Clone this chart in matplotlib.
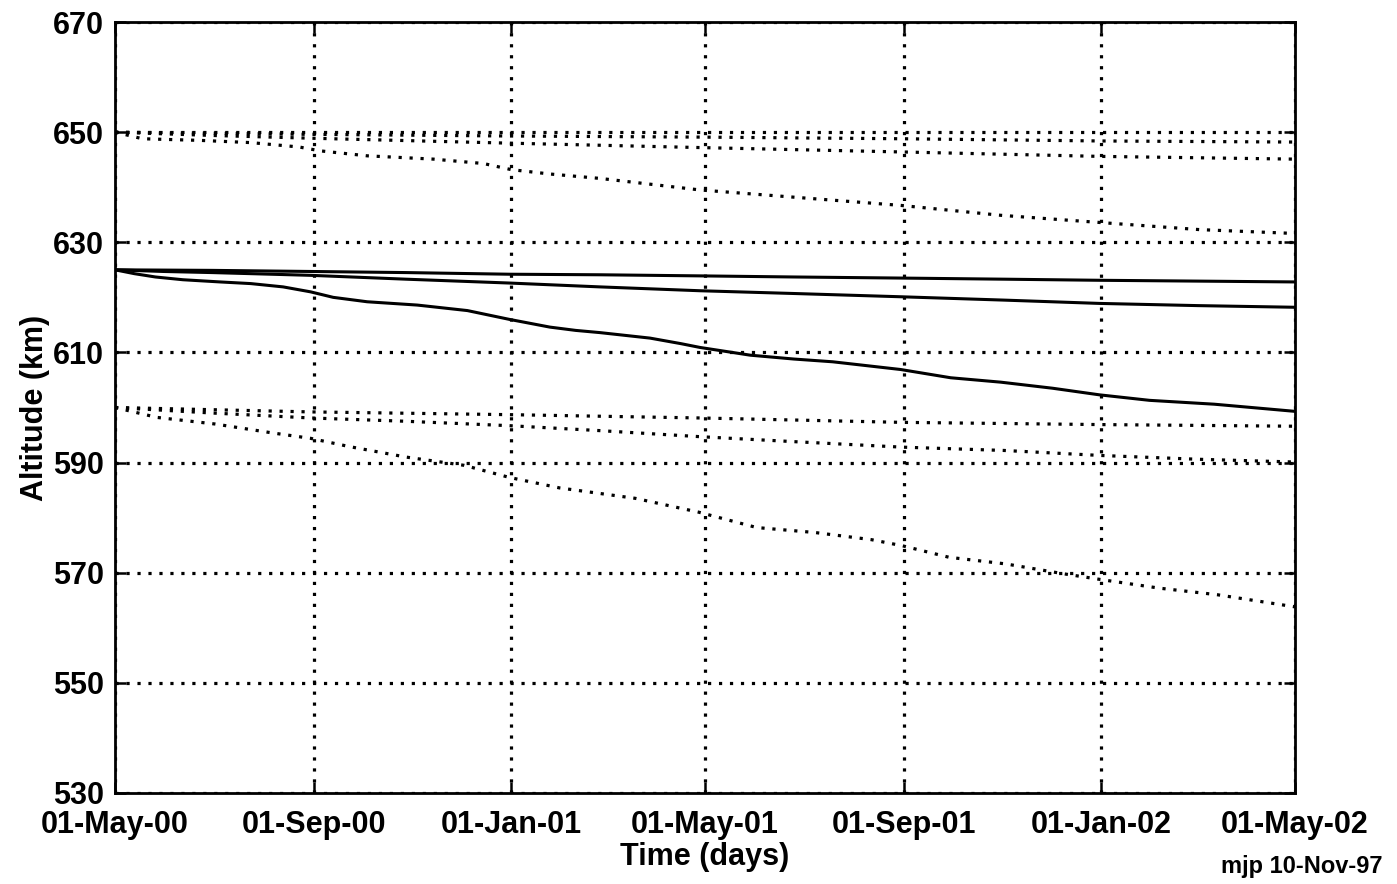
import numpy as np
import matplotlib
matplotlib.use("Agg")
import matplotlib.pyplot as plt
import matplotlib.dates as mdates

plt.rcParams['font.family'] = ['Liberation Sans', 'DejaVu Sans']
plt.rcParams['font.weight'] = 'bold'
plt.rcParams['lines.scale_dashes'] = False

start = np.datetime64('2000-05-01')

# ---- solid curves (start at 625 km) ----
top_days = [0, 60, 121, 180, 244, 300, 362, 420, 487, 550, 609, 670, 730]
top_alt = [625.0, 624.9, 624.7, 624.5, 624.2, 624.1, 623.9, 623.7, 623.5, 623.3, 623.1, 622.95, 622.8]

mid_days = [0, 30, 60, 121, 180, 244, 300, 362, 420, 487, 550, 609, 670, 730]
mid_alt = [625.0, 624.7, 624.5, 624.0, 623.3, 622.6, 621.9, 621.2, 620.7, 620.1, 619.5, 618.9, 618.5, 618.2]

low_days = [0, 12, 25, 42, 65, 84, 104, 121, 135, 156, 187, 218, 244, 269, 285, 300, 331,
            350, 362, 393, 420, 444, 486, 517, 548, 580, 609, 640, 680, 730]
low_alt = [625.0, 624.3, 623.7, 623.2, 622.8, 622.5, 621.9, 621.0, 620.0, 619.2, 618.6, 617.6, 616.0,
           614.6, 614.0, 613.6, 612.6, 611.6, 610.9, 609.5, 608.8, 608.3, 606.9, 605.4, 604.6,
           603.5, 602.3, 601.3, 600.6, 599.3]

# ---- dotted curves starting at 650 km ----
u1_days = [0, 121, 244, 362, 487, 609, 730]
u1_alt = [650.0, 649.6, 649.3, 649.1, 648.8, 648.4, 648.2]

u2_days = [0, 60, 121, 244, 362, 487, 609, 730]
u2_alt = [650.0, 649.4, 648.9, 648.0, 647.2, 646.4, 645.6, 645.1]

u3_days = [0, 17, 53, 84, 114, 127, 156, 197, 228, 245, 269, 300, 362, 424, 486, 548, 609, 671, 730]
u3_alt = [650.0, 648.8, 648.5, 648.1, 647.3, 646.6, 645.7, 645.1, 644.3, 643.2, 642.4, 641.6,
          639.5, 638.1, 636.7, 634.9, 633.6, 632.3, 631.6]

# ---- dotted curves starting at 600 km ----
l1_days = [0, 121, 244, 362, 487, 609, 730]
l1_alt = [600.0, 599.2, 598.7, 598.1, 597.3, 596.9, 596.6]

l2_days = [0, 30, 60, 121, 180, 244, 300, 362, 420, 487, 550, 609, 670, 730]
l2_alt = [600.0, 599.5, 599.0, 598.1, 597.5, 596.7, 595.8, 594.7, 593.8, 592.8, 592.2, 591.3, 590.6, 590.1]

l3_days = [0, 26, 62, 97, 121, 145, 180, 216, 244, 275, 322, 361, 397, 433, 468, 487,
           516, 551, 587, 609, 646, 682, 730]
l3_alt = [600.0, 598.2, 597.0, 595.4, 594.4, 592.9, 591.0, 589.5, 587.3, 585.4, 583.5, 581.0,
          578.2, 577.3, 576.0, 574.9, 572.8, 571.6, 569.8, 568.8, 567.2, 566.0, 563.8]

xtick_dates = ['2000-05-01', '2000-09-01', '2001-01-01', '2001-05-01',
               '2001-09-01', '2002-01-01', '2002-05-01']
yticks = [530, 550, 570, 590, 610, 630, 650, 670]


def to_dates(days):
    return start + np.array(days, dtype='timedelta64[D]')


W, H = 1397, 884
fig = plt.figure(figsize=(W / 100, H / 100), dpi=100)
ax = fig.add_axes([115 / W, 1 - 793 / H, 1180 / W, 771 / H])

dot = (0, (2.3, 5.6))
for d, a in [(top_days, top_alt), (mid_days, mid_alt), (low_days, low_alt)]:
    ax.plot(to_dates(d), a, color='black', lw=2.2, solid_joinstyle='round')
for d, a in [(u1_days, u1_alt), (u2_days, u2_alt), (u3_days, u3_alt),
             (l1_days, l1_alt), (l2_days, l2_alt), (l3_days, l3_alt)]:
    ax.plot(to_dates(d), a, color='black', lw=2.3, linestyle=dot)

xt = np.array(xtick_dates, dtype='datetime64[D]')
ax.set_xlim(xt[0], xt[-1])
ax.set_ylim(530, 670)
ax.set_xticks(xt)
ax.xaxis.set_major_formatter(mdates.DateFormatter('%d-%b-%y'))
ax.set_yticks(yticks)

ax.grid(True, color='black', linestyle=dot, linewidth=2.3)
ax.set_axisbelow(True)

for s in ax.spines.values():
    s.set_linewidth(2.0)
ax.tick_params(direction='in', length=8, width=1.8, top=True, right=True,
               labelsize=22)
ax.tick_params(axis='x', pad=12)
ax.tick_params(axis='y', pad=8)
ax.set_xlabel('Time (days)', fontsize=22, fontweight='bold', labelpad=2)
ax.set_ylabel('Altitude (km)', fontsize=22, fontweight='bold', labelpad=2)

fig.text(1302 / W, 1 - 866 / H, 'mjp 10-Nov-97', fontsize=17, fontweight='bold',
         ha='center', va='center')

fig.savefig('out.png', dpi=100)
